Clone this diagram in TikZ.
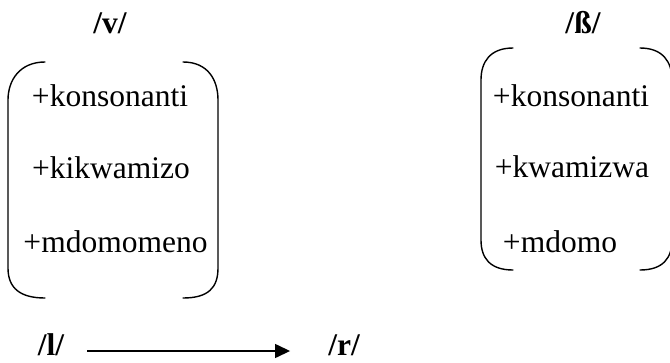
\documentclass[tikz,border=0pt]{standalone}
\usepackage{fontspec}
\setmainfont{Liberation Serif}
\usetikzlibrary{arrows.meta}
\begin{document}
\begin{tikzpicture}[x=1pt,y=-1pt,
  feat/.style={inner sep=0pt,anchor=base,font=\fontsize{31.5}{36}\selectfont},
  lbl/.style={inner sep=0pt,anchor=base,font=\fontsize{31.5}{36}\selectfont\bfseries},
  brk/.style={line width=1.4pt,line cap=round},
  arr/.style={line width=1.4pt,-{Triangle[length=15pt,width=14pt]}}]
\useasboundingbox (0,0) rectangle (670,362);
\clip (0,0) rectangle (670,362);
% left matrix
\node[lbl] (v) at (110,33) {/v/};
\node[feat] (a1) at (110,106) {+konsonanti};
\node[feat] (a2) at (111,178) {+kikwamizo};
\node[feat] (a3) at (115.5,252) {+mdomomeno};
\draw[brk] (45,62) .. controls (20,62) and (8,80) .. (8,100) -- (8,268) .. controls (8,288) and (20,298) .. (45,298);
\draw[brk] (183,62) .. controls (208,62) and (218,80) .. (218,100) -- (218,268) .. controls (218,288) and (208,298) .. (183,298);
% right matrix
\node[lbl] (b) at (583,33) {/ß/};
\node[feat] (b1) at (571,106) {+konsonanti};
\node[feat] (b2) at (572,177) {+kwamizwa};
\node[feat] (b3) at (560,252) {+mdomo};
\draw[brk] (513,48) .. controls (490,48) and (481,62) .. (481,80) -- (481,240) .. controls (481,258) and (490,270) .. (513,270);
\draw[brk] (640,48) .. controls (663,48) and (672,62) .. (672,80) -- (672,240) .. controls (672,258) and (663,270) .. (640,270);
% bottom rule
\node[lbl] (l) at (51,355) {/l/};
\node[lbl] (r) at (344,355) {/r/};
\draw[arr] ([shift={(23,-4)}]l.base east) -- ([shift={(-38,-4)}]r.base west);
\end{tikzpicture}
\end{document}
